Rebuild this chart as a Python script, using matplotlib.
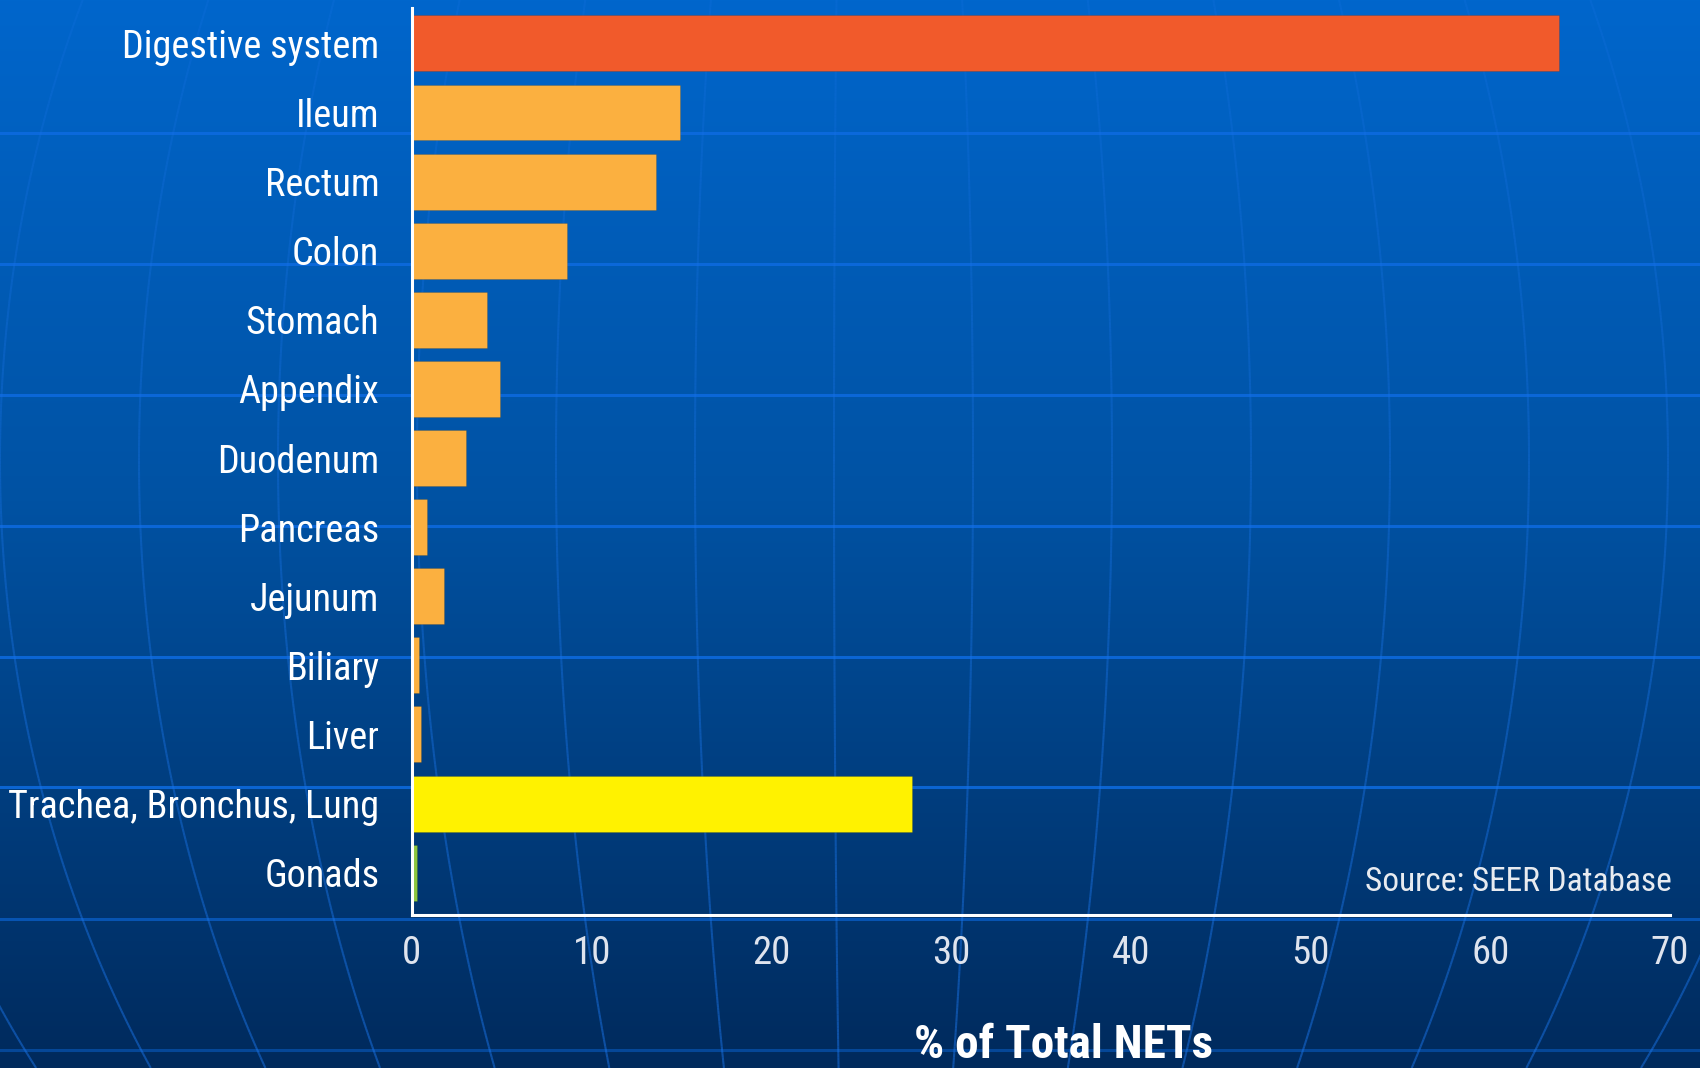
import numpy as np
import matplotlib
matplotlib.use('Agg')
import matplotlib.pyplot as plt
from matplotlib import font_manager
from matplotlib.collections import LineCollection

# share of all neuroendocrine tumours by primary site
sites = ['Digestive system', 'Ileum', 'Rectum', 'Colon', 'Stomach', 'Appendix',
         'Duodenum', 'Pancreas', 'Jejunum', 'Biliary', 'Liver',
         'Trachea, Bronchus, Lung', 'Gonads']
pct = [63.8, 14.9, 13.6, 8.6, 4.2, 4.9, 3.0, 0.85, 1.8, 0.4, 0.5, 27.8, 0.27]
bar_colors = ['#f15a2b'] + ['#fbb040'] * 10 + ['#fff200', '#8dc63f']
xticks = [0, 10, 20, 30, 40, 50, 60, 70]

# narrow sans for the labels, whichever one is around
have = {f.name for f in font_manager.fontManager.ttflist}
narrow = [n for n in ['Liberation Sans Narrow', 'Arial Narrow', 'Roboto Condensed',
                      'Archivo Narrow', 'PT Sans Narrow'] if n in have]
plt.rcParams['font.family'] = narrow[:1] + ['Liberation Sans', 'DejaVu Sans']

W, H = 1700, 1068
fig = plt.figure(figsize=(W / 100, H / 100), dpi=100)

# globe style slide background
bg = fig.add_axes([0, 0, 1, 1])
bg.set_xlim(0, W)
bg.set_ylim(H, 0)
bg.axis('off')
rows = np.arange(H)
stops = [0, 500, H]
g = np.interp(rows, stops, [102, 82, 42])
b = np.interp(rows, stops, [204, 163, 92])
grad = np.stack([np.zeros(H), g, b], axis=1)[:, None, :] / 255.0
bg.imshow(np.repeat(grad, 2, axis=1), extent=(0, W, H, 0), aspect='auto', zorder=0)

for yl in [133, 264, 395, 526, 657, 787, 919, 1050]:
    a = 0.85 if yl < 800 else (0.6 if yl < 1000 else 0.45)
    bg.axhline(yl, color=(0.05, 0.42, 0.88), lw=2.2, alpha=a, zorder=1)

# meridians, fainter near the top
ys = np.linspace(0, H, 300)
cx, cy, B = 860, 460, 1075
t = (ys - cy) / B
mid = (ys[:-1] + ys[1:]) / 2
seg_col = np.zeros((len(mid), 4))
seg_col[:, :3] = (0.1, 0.45, 0.9)
seg_col[:, 3] = 0.22 + 0.3 * mid / H
for k in range(-8, 8):
    A = -26 + 139 * k
    pts = np.column_stack([cx + A * np.sqrt(1 - t ** 2), ys])
    segs = np.stack([pts[:-1], pts[1:]], axis=1)
    bg.add_collection(LineCollection(segs, colors=seg_col, lw=1.5, zorder=1))

ax = fig.add_axes([412 / W, 1 - 915 / H, (1670 - 412) / W, (915 - 7.6) / H])
ax.patch.set_alpha(0)
y = np.arange(len(sites))
ax.barh(y, pct, height=0.81, color=bar_colors, edgecolor='#00000022',
        lw=0.6, zorder=3)
ax.set_xlim(0, 70)
ax.set_ylim(12.612, -0.518)
ax.set_yticks(y, sites)
ax.set_xticks(xticks)
ax.tick_params(axis='y', length=0, pad=23.5, labelsize=27.5, labelcolor='white')
ax.tick_params(axis='x', length=0, pad=14.5, labelsize=28, labelcolor='#dfe4ee')
for s in ['top', 'right']:
    ax.spines[s].set_visible(False)
for s in ['left', 'bottom']:
    ax.spines[s].set_color('white')
    ax.spines[s].set_linewidth(2.2)
    ax.spines[s].set_zorder(4)

fig.text(1672 / W, 1 - 891 / H, 'Source: SEER Database', ha='right',
         va='baseline', fontsize=24, color='#e8ebf0')
fig.text(1063 / W, 1 - 1058 / H, '% of Total NETs', ha='center',
         va='baseline', fontsize=34, fontweight='bold', color='white')

fig.savefig('out.png', dpi=100)
